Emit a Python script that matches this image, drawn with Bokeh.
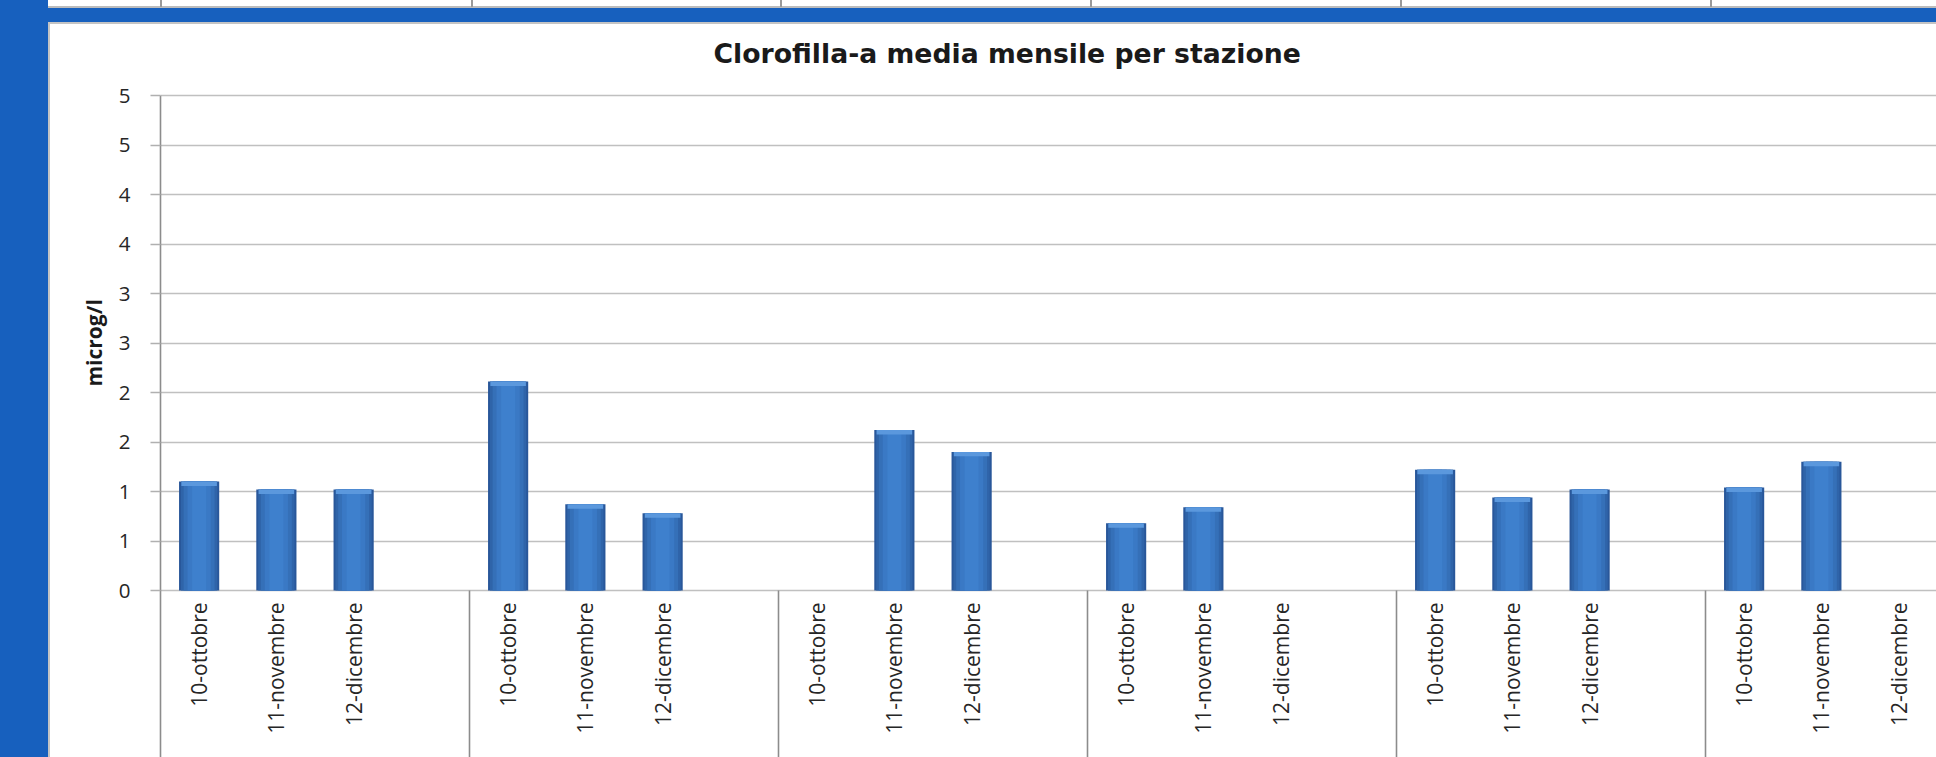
import numpy as np
from bokeh.plotting import figure
from bokeh.layouts import column, row
from bokeh.models import (Range1d, FixedTicker, CustomJSTickFormatter, Title, ColumnDataSource, Div)
from bokeh.embed import file_html
from bokeh.resources import INLINE
from bokeh.core.properties import value

# ---------------- data ----------------
title_text = "Clorofilla-a media mensile per stazione"
y_axis_title = "microg/l"
months = ["10-ottobre", "11-novembre", "12-dicembre"]
# station names are cut off at the bottom of the picture (illegible)
stations = ["stazione 1", "stazione 2", "stazione 3", "stazione 4", "stazione 5", "stazione 6"]
st1 = [1.10, 1.02, 1.02]
st2 = [2.11, 0.87, 0.78]
st3 = [None, 1.62, 1.40]
st4 = [0.68, 0.84, None]
st5 = [1.22, 0.94, 1.02]
st6 = [1.04, 1.30, None]
series = [st1, st2, st3, st4, st5, st6]
y_ticks = [0, 0.5, 1, 1.5, 2, 2.5, 3, 3.5, 4, 4.5, 5]

# ---------------- layout geometry ----------------
PAGE_W, PAGE_H = 1936, 757
TOP_H = 24            # blue band at top
LEFT_W = 50           # blue band at left
W, H = PAGE_W - LEFT_W, PAGE_H - TOP_H
FRAME_L = 110         # left edge of plot frame inside the figure
FRAME_T = 55          # top edge of plot frame inside the figure
ZERO_Y = 566          # pixel row of value 0 inside the figure
UNIT_PX = 99.0        # pixels per 1 microg/l
SLOT_PX = 77.25       # pixels per category slot
SLOTS_PER_GROUP = len(months) + 1

x_range = Range1d(0, (W - FRAME_L) / SLOT_PX)
y_range = Range1d((ZERO_Y - H) / UNIT_PX, (ZERO_Y - FRAME_T) / UNIT_PX)

p = figure(width=W, height=H, x_range=x_range, y_range=y_range,
           output_backend="svg", toolbar_location=None,
           x_axis_location=None, min_border_left=FRAME_L, min_border_top=FRAME_T,
           min_border_right=0, min_border_bottom=0, margin=(0, 0, 0, 0))
p.outline_line_color = None
p.background_fill_color = "white"
p.border_fill_color = "white"
p.xgrid.visible = False
p.ygrid.ticker = FixedTicker(ticks=y_ticks)
p.ygrid.grid_line_color = "#c0c0c0"
p.ygrid.grid_line_width = 1.6

ax = p.yaxis[0]
ax.bounds = (y_range.start, max(y_ticks))
ax.ticker = FixedTicker(ticks=y_ticks)
ax.formatter = CustomJSTickFormatter(code="return Math.round(tick).toString();")
ax.major_label_text_font = "Open Sans"
ax.major_label_text_font_size = "20.5px"
ax.major_label_text_color = "#262626"
ax.major_tick_out = 10
ax.major_tick_in = 0
ax.minor_tick_out = 0
ax.minor_tick_in = 0
ax.major_tick_line_color = "#b0b0b0"
ax.major_tick_line_width = 1.6
ax.axis_line_color = "#8c8c8c"
ax.axis_line_width = 1.6
ax.major_label_standoff = 20

# titles
p.title.text = title_text
p.title.align = "left"
p.title.offset = 553
p.title.standoff = 22
p.title.text_font = "DejaVu Sans"
p.title.text_font_style = "bold"
p.title.text_font_size = "26.7px"
p.title.text_color = "#1a1a1a"

p.add_layout(Title(text=y_axis_title, align="left", offset=(H - 362), standoff=16,
                   text_font="Open Sans", text_font_style="bold", text_font_size="21px",
                   text_color="#1a1a1a"), "left")

# ---------------- bars ----------------
bx, btop, lx, ltxt = [], [], [], []
for g, vals in enumerate(series):
    for m, v in enumerate(vals):
        xc = g * SLOTS_PER_GROUP + m + 0.5
        lx.append(xc)
        ltxt.append(months[m])
        if v is not None:
            bx.append(xc)
            btop.append(v)
src = ColumnDataSource(dict(x=bx, top=btop, cap=[t - 0.045 for t in btop]))

for w, c in [(0.52, "#29579a"), (0.47, "#2f64a9"), (0.40, "#3570b8"),
             (0.30, "#3a79c5"), (0.18, "#3e80cd")]:
    p.vbar(x="x", top="top", bottom=0, width=w, source=src, fill_color=c, line_color=None)
p.vbar(x="x", top="top", bottom="cap", width=0.46, source=src, fill_color="#5b98dd", line_color=None)

# group separators below the zero line
seps = [g * SLOTS_PER_GROUP for g in range(1, len(series))]
p.segment(x0=seps, x1=seps, y0=[0] * len(seps), y1=[y_range.start] * len(seps),
          line_color="#8c8c8c", line_width=1.6)

# month labels
p.text(x=lx, y=[0] * len(lx), text=ltxt, angle=np.pi / 2, y_offset=12,
       text_align="right", text_baseline="middle",
       text_font=value("Open Sans"), text_font_size="21px", text_color="#262626")

# ---------------- surrounding slide bands ----------------
table_lines = ", ".join(f"linear-gradient(#9a9a9a, #9a9a9a) {x}px 0px / 2px 7px no-repeat"
                        for x in (160, 471, 780, 1090, 1400, 1710))
top_band = Div(text="", width=PAGE_W, height=TOP_H, margin=(0, 0, 0, 0),
               styles={"background": "linear-gradient(to right, #1760be 0px, #1760be 48px, rgba(0,0,0,0) 48px), "
                                     + table_lines + ", "
                                     "linear-gradient(to bottom, #ffffff 0px, #ffffff 6px, #bcbcbc 6px, "
                                     "#bcbcbc 8px, #1760be 8px, #1760be 22px, #c4c4c4 22px, #c4c4c4 24px)"})
left_band = Div(text="", width=LEFT_W, height=H, margin=(0, 0, 0, 0),
                styles={"background": "linear-gradient(to right, #1760be 0px, #1760be 48px, "
                                      "#c4c4c4 48px, #c4c4c4 50px)"})

layout = column(top_band, row(left_band, p, spacing=0, margin=(0, 0, 0, 0)),
                spacing=0, margin=(0, 0, 0, 0))

open("out.html", "w").write(file_html(layout, INLINE))
